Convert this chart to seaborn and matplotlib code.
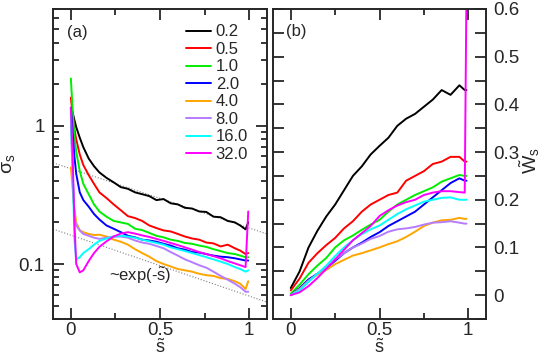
import numpy as np
import pandas as pd
import seaborn as sns
import matplotlib.pyplot as plt
from matplotlib.ticker import FixedLocator, LogLocator, NullFormatter, MultipleLocator

# %% data
labels = ["0.2", "0.5", "1.0", "2.0", "4.0", "8.0", "16.0", "32.0"]
colors = ["#000000", "#ff0000", "#00ee00", "#0000ff", "#ffa500", "#b57cff", "#00ffff", "#ff00ff"]

# panel (a): sigma_s on log scale
s_a = [0.0, 0.01, 0.02, 0.03, 0.05, 0.07, 0.1, 0.13, 0.16, 0.2, 0.24, 0.28, 0.32, 0.36, 0.4,
       0.44, 0.48, 0.52, 0.56, 0.6, 0.64, 0.68, 0.72, 0.76, 0.8, 0.84, 0.88, 0.92, 0.95, 0.98, 0.995]
sig_02 = [1.35, 1.25, 1.1, 0.98, 0.82, 0.7, 0.58, 0.51, 0.46, 0.42, 0.39, 0.36, 0.35, 0.33, 0.32,
          0.31, 0.29, 0.295, 0.275, 0.27, 0.255, 0.252, 0.24, 0.238, 0.22, 0.218, 0.205, 0.2, 0.19, 0.178, 0.2]
sig_05 = [1.6, 1.2, 0.95, 0.8, 0.62, 0.52, 0.44, 0.38, 0.33, 0.3, 0.27, 0.245, 0.222, 0.215, 0.205,
          0.19, 0.182, 0.175, 0.172, 0.165, 0.158, 0.153, 0.15, 0.143, 0.141, 0.134, 0.138, 0.13, 0.125, 0.118, 0.12]
sig_10 = [2.2, 1.3, 0.85, 0.65, 0.47, 0.38, 0.32, 0.27, 0.24, 0.22, 0.205, 0.2, 0.195, 0.18, 0.176,
          0.168, 0.16, 0.156, 0.15, 0.147, 0.142, 0.14, 0.136, 0.133, 0.128, 0.124, 0.12, 0.118, 0.115, 0.112, 0.112]
sig_20 = [1.35, 0.9, 0.6, 0.45, 0.33, 0.29, 0.26, 0.23, 0.21, 0.19, 0.18, 0.17, 0.16, 0.156, 0.15,
          0.148, 0.145, 0.14, 0.136, 0.13, 0.127, 0.122, 0.121, 0.118, 0.115, 0.113, 0.112, 0.11, 0.108, 0.106, 0.106]
sig_40 = [0.5, 0.35, 0.25, 0.2, 0.175, 0.17, 0.165, 0.162, 0.163, 0.158, 0.15, 0.145, 0.138, 0.128, 0.12,
          0.113, 0.105, 0.1, 0.096, 0.092, 0.09, 0.088, 0.085, 0.083, 0.082, 0.079, 0.078, 0.075, 0.072, 0.066, 0.075]
sig_80 = [1.0, 0.45, 0.22, 0.19, 0.175, 0.165, 0.16, 0.155, 0.152, 0.155, 0.158, 0.158, 0.155, 0.148, 0.143,
          0.14, 0.135, 0.13, 0.122, 0.115, 0.108, 0.103, 0.098, 0.094, 0.088, 0.082, 0.077, 0.072, 0.068, 0.063, 0.063]
sig_160 = [1.2, 0.5, 0.15, 0.108, 0.112, 0.12, 0.128, 0.138, 0.147, 0.153, 0.158, 0.16, 0.158, 0.155, 0.15,
           0.146, 0.142, 0.138, 0.132, 0.128, 0.124, 0.12, 0.116, 0.112, 0.108, 0.104, 0.1, 0.095, 0.092, 0.088, 0.09]
sig_320 = [1.35, 0.6, 0.2, 0.1, 0.087, 0.09, 0.105, 0.12, 0.133, 0.146, 0.158, 0.166, 0.17, 0.166, 0.161,
           0.157, 0.152, 0.147, 0.142, 0.137, 0.132, 0.127, 0.122, 0.118, 0.114, 0.11, 0.105, 0.101, 0.098, 0.095, 0.24]
sigma = [sig_02, sig_05, sig_10, sig_20, sig_40, sig_80, sig_160, sig_320]

# guide lines ~exp(-s), end values at s=-0.1 and s=1.1
guide_s = [-0.1, 1.1]
guide_hi = [0.54, 0.165]
guide_lo = [0.179, 0.053]

# panel (b): W_s
s_b = [0.0, 0.05, 0.1, 0.15, 0.2, 0.25, 0.3, 0.35, 0.4, 0.45, 0.5, 0.55, 0.6, 0.65, 0.7, 0.75,
       0.8, 0.85, 0.9, 0.95, 0.98, 0.99]
w_02 = [0.015, 0.05, 0.1, 0.135, 0.165, 0.19, 0.22, 0.25, 0.27, 0.295, 0.313, 0.33, 0.355, 0.37, 0.38, 0.395,
        0.41, 0.43, 0.42, 0.44, 0.43, 0.43]
w_05 = [0.01, 0.035, 0.068, 0.088, 0.105, 0.12, 0.14, 0.155, 0.175, 0.19, 0.2, 0.21, 0.215, 0.24, 0.25, 0.26,
        0.275, 0.28, 0.29, 0.29, 0.28, 0.28]
w_10 = [0.003, 0.022, 0.044, 0.062, 0.078, 0.1, 0.115, 0.125, 0.137, 0.148, 0.158, 0.175, 0.19, 0.2, 0.21, 0.218,
        0.226, 0.238, 0.245, 0.252, 0.25, 0.25]
w_20 = [0.0, 0.015, 0.033, 0.045, 0.056, 0.072, 0.088, 0.1, 0.11, 0.122, 0.132, 0.145, 0.155, 0.165, 0.175, 0.19,
        0.205, 0.22, 0.235, 0.245, 0.24, 0.24]
w_40 = [0.0, 0.013, 0.03, 0.043, 0.053, 0.065, 0.074, 0.083, 0.088, 0.094, 0.1, 0.107, 0.113, 0.122, 0.133, 0.145,
        0.152, 0.157, 0.158, 0.162, 0.16, 0.16]
w_80 = [0.0, 0.012, 0.03, 0.045, 0.058, 0.075, 0.088, 0.1, 0.108, 0.118, 0.124, 0.133, 0.138, 0.14, 0.143, 0.148,
        0.152, 0.153, 0.155, 0.152, 0.15, 0.15]
w_160 = [0.0, 0.01, 0.028, 0.045, 0.062, 0.082, 0.1, 0.115, 0.128, 0.138, 0.146, 0.158, 0.17, 0.18, 0.188, 0.196,
         0.2, 0.204, 0.205, 0.2, 0.2, 0.2]
w_320 = [0.0, 0.006, 0.019, 0.036, 0.055, 0.075, 0.095, 0.115, 0.13, 0.145, 0.166, 0.178, 0.188, 0.195, 0.2, 0.21,
         0.215, 0.218, 0.218, 0.216, 0.215, 0.65]
wtil = [w_02, w_05, w_10, w_20, w_40, w_80, w_160, w_320]


def long_frame(s, series):
    rows = []
    for lab, vals in zip(labels, series):
        rows.append(pd.DataFrame({"s": s, "v": vals, "lab": lab}))
    return pd.concat(rows, ignore_index=True)


def main():
    sns.set_style("ticks")
    plt.rcParams["font.family"] = ["Liberation Sans", "DejaVu Sans"]
    plt.rcParams["mathtext.fontset"] = "custom"
    plt.rcParams["mathtext.rm"] = "Liberation Sans"
    plt.rcParams["mathtext.it"] = "Liberation Sans"
    plt.rcParams["axes.linewidth"] = 1.4

    pal = dict(zip(labels, colors))
    df_a = long_frame(s_a, sigma)
    df_b = long_frame(s_b, wtil)

    fig = plt.figure(figsize=(5.5, 3.58), dpi=100)
    ax1 = fig.add_axes([0.0964, 0.1089, 0.389, 0.866])
    ax2 = fig.add_axes([0.4964, 0.1089, 0.3873, 0.866])

    # %% panel (a)
    ax1.plot(guide_s, guide_hi, ls=":", color="gray", lw=0.8)
    ax1.plot(guide_s, guide_lo, ls=":", color="gray", lw=0.8)
    sns.lineplot(data=df_a, x="s", y="v", hue="lab", hue_order=labels, palette=pal,
                 estimator=None, sort=False, lw=1.4, ax=ax1)
    ax1.set_yscale("log")
    ax1.set_ylim(0.04, 7)
    ax1.set_xlim(-0.1, 1.1)
    ax1.yaxis.set_major_locator(FixedLocator([0.1, 1]))
    ax1.set_yticklabels(["0.1", "1"])
    ax1.yaxis.set_minor_locator(LogLocator(base=10, subs=np.arange(2, 10)))
    ax1.yaxis.set_minor_formatter(NullFormatter())
    ax1.set_ylabel(r"$\sigma_\mathrm{s}$", fontsize=14)
    ax1.yaxis.set_label_coords(-0.17, 0.5)
    ax1.text(-0.02, 4.76, "(a)", fontsize=12, ha="left", va="center")
    ax1.text(0.39, 0.082, r"~exp(-$\tilde{\mathrm{s}}$)", fontsize=12, ha="center", va="center")
    handles, labs = ax1.get_legend_handles_labels()
    ax1.legend(handles, labs, loc="upper left", bbox_to_anchor=(0.62, 0.95), frameon=False,
               fontsize=12, handlelength=1.5, handletextpad=0.3, labelspacing=0.15,
               borderpad=0, borderaxespad=0)

    # %% panel (b)
    sns.lineplot(data=df_b, x="s", y="v", hue="lab", hue_order=labels, palette=pal,
                 estimator=None, sort=False, lw=1.4, ax=ax2, legend=False)
    ax2.set_xlim(-0.1, 1.1)
    ax2.set_ylim(-0.05, 0.6)
    ax2.yaxis.set_major_locator(MultipleLocator(0.1))
    ax2.yaxis.set_minor_locator(MultipleLocator(0.05))
    ax2.set_yticklabels(["0" if abs(t) < 1e-9 else "%.1f" % t for t in ax2.get_yticks()])
    ax2.yaxis.tick_right()
    ax2.yaxis.set_label_position("right")
    ax2.set_ylabel(r"$\tilde{\mathrm{W}}_\mathrm{s}$", fontsize=14, rotation=90)
    ax2.yaxis.set_label_coords(1.145, 0.51)
    ax2.text(-0.026, 0.552, "(b)", fontsize=12, ha="left", va="center")

    for ax in (ax1, ax2):
        ax.xaxis.set_major_locator(FixedLocator([0, 0.5, 1]))
        ax.xaxis.set_minor_locator(FixedLocator([0.25, 0.75]))
        ax.set_xticklabels(["0", "0.5", "1"])
        ax.set_xlabel(r"$\tilde{\mathrm{s}}$", fontsize=13)
        ax.xaxis.set_label_coords(0.5, -0.062)
        ax.tick_params(which="both", direction="in", top=True, bottom=True, left=True, right=True,
                       width=1.3, labelsize=13.5)
        ax.tick_params(which="major", length=8, pad=2)
        ax.tick_params(which="minor", length=4)
        for sp in ax.spines.values():
            sp.set_linewidth(1.4)
    ax2.tick_params(axis="y", which="minor", length=8)
    ax2.tick_params(axis="y", labelleft=False, labelright=True, pad=5)
    ax1.tick_params(axis="y", pad=6)

    fig.savefig("out.png", dpi=100)


if __name__ == "__main__":
    main()
